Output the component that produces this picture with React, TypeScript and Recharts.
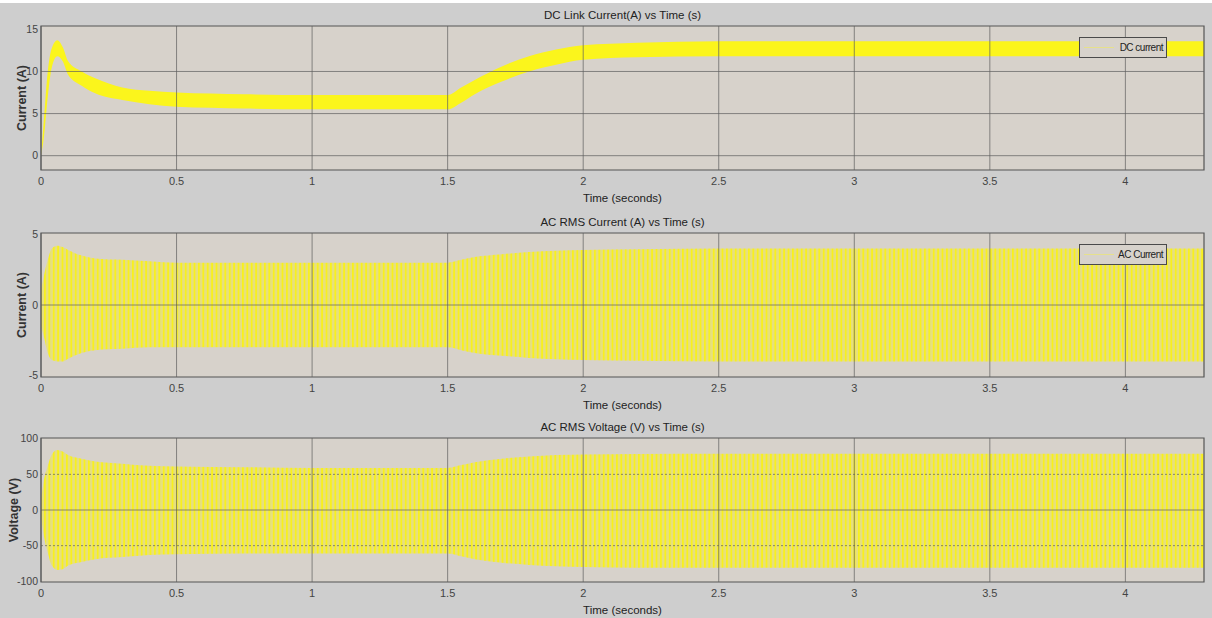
import React from 'react'
import {
  ComposedChart,
  Area,
  XAxis,
  YAxis,
  CartesianGrid,
  ReferenceLine,
  ReferenceArea,
  Legend,
} from 'recharts'

// envelope of each simulated signal
const times = [
  0, 0.01, 0.025, 0.04, 0.06, 0.08, 0.1, 0.15, 0.2, 0.3, 0.4, 0.5, 0.75, 1.0, 1.25, 1.5,
  1.55, 1.6, 1.7, 1.8, 1.9, 2.0, 2.2, 2.5, 3.0, 3.5, 4.0, 4.29,
]

const dcUpper = [
  0, 4, 10, 12.8, 13.7, 12.9, 11.2, 10.0, 9.2, 8.1, 7.7, 7.5, 7.3, 7.2, 7.2, 7.2,
  8.1, 9.0, 10.6, 11.8, 12.6, 13.1, 13.4, 13.6, 13.6, 13.6, 13.6, 13.6,
]
const dcLower = [
  0, 2, 7, 10.5, 11.8, 11.2, 9.6, 8.3, 7.4, 6.6, 6.1, 5.8, 5.6, 5.5, 5.5, 5.5,
  6.3, 7.3, 8.8, 10.0, 10.8, 11.4, 11.7, 11.8, 11.8, 11.8, 11.8, 11.8,
]

const acCurrentUpper = [
  1.0, 2.0, 3.2, 4.0, 4.2, 4.1, 3.9, 3.5, 3.3, 3.2, 3.1, 3.0, 3.0, 3.0, 3.0, 3.0,
  3.2, 3.4, 3.6, 3.75, 3.85, 3.9, 3.95, 4.0, 4.0, 4.0, 4.0, 4.0,
]
const acCurrentLower = [
  -1.5, -2.2, -3.4, -3.9, -4.0, -4.0, -3.8, -3.4, -3.2, -3.1, -3.0, -3.0, -3.0, -3.0, -3.0, -3.0,
  -3.2, -3.4, -3.6, -3.75, -3.85, -3.9, -3.95, -4.0, -4.0, -4.0, -4.0, -4.0,
]

const acVoltageUpper = [
  15, 40, 62, 78, 84, 82, 77, 72, 68, 65, 62, 61, 60, 59, 59, 59,
  63, 67, 72, 75, 77, 78, 78.5, 79, 79, 79, 79, 79,
]
const acVoltageLower = [
  -10, -35, -60, -78, -84, -83, -78, -73, -69, -66, -63, -62, -61, -61, -61, -61,
  -65, -69, -74, -77, -79, -80, -81, -81, -81, -81, -81, -81,
]

const xTicks = [0, 0.5, 1, 1.5, 2, 2.5, 3, 3.5, 4]
const dcTicks = [0, 5, 10, 15]
const acCurrentTicks = [-5, 0, 5]
const acVoltageTicks = [-100, -50, 0, 50, 100]

const data = times.map((t, i) => ({
  t,
  dc: [dcLower[i], dcUpper[i]],
  iac: [acCurrentLower[i], acCurrentUpper[i]],
  vac: [acVoltageLower[i], acVoltageUpper[i]],
}))

const X_MAX = 4.29
const FONT = '"Liberation Sans", Arial, sans-serif'
const FIG_BG = '#cecece'
const PLOT_BG = '#d7d2cb'
const GRID = '#5e5e5e'

interface GridLine {
  y: number
  dashed?: boolean
}

interface PanelProps {
  top: number
  title: string
  yLabel: string
  labelOffset: number
  dataKey: string
  yTicks: number[]
  yDomain: [number, number]
  fill: string
  gridLines: GridLine[]
  legend?: string
}

function LegendBox({ name }: { name: string }) {
  return (
    <div
      style={{
        boxSizing: 'border-box',
        width: 88,
        height: 21,
        background: PLOT_BG,
        border: '1px solid #4a4a4a',
        position: 'relative',
        fontFamily: FONT,
        fontSize: 10,
        color: '#222',
        letterSpacing: -0.5,
        whiteSpace: 'nowrap',
      }}
    >
      <div style={{ position: 'absolute', left: 4, top: 9, width: 30, height: 1, background: '#e6e08c' }} />
      <span style={{ position: 'absolute', right: 3, top: 3, lineHeight: '13px' }}>{name}</span>
    </div>
  )
}

function Panel({ top, title, yLabel, labelOffset, dataKey, yTicks, yDomain, fill, gridLines, legend }: PanelProps) {
  return (
    <div style={{ position: 'absolute', left: 0, top, width: 1212, height: 205 }}>
      <div
        style={{
          position: 'absolute',
          top: 8,
          left: 41,
          width: 1163,
          textAlign: 'center',
          fontFamily: FONT,
          fontSize: 11.5,
          lineHeight: '14px',
          color: '#222',
        }}
      >
        {title}
      </div>
      <ComposedChart width={1212} height={205} data={data} margin={{ top: 26, right: 8, left: 0, bottom: 0 }}>
        <defs>
          <pattern id="acStripes" patternUnits="userSpaceOnUse" width={4.4} height={10}>
            <rect x={0} y={0} width={4.4} height={10} fill="#e6df80" />
            <rect x={0} y={0} width={1.8} height={10} fill="#f8f01e" />
          </pattern>
        </defs>
        <CartesianGrid fill={PLOT_BG} horizontal={false} vertical={false} />
        <XAxis
          dataKey="t"
          type="number"
          domain={[0, X_MAX]}
          ticks={xTicks}
          allowDataOverflow
          height={35}
          axisLine={false}
          tickLine={false}
          tickSize={0}
          tickMargin={7}
          tick={{ fontSize: 11, fill: '#444', fontFamily: FONT }}
          label={{
            value: 'Time (seconds)',
            position: 'insideBottom',
            offset: 3,
            fontSize: 11.5,
            fill: '#222',
            fontFamily: FONT,
          }}
        />
        <YAxis
          type="number"
          domain={yDomain}
          ticks={yTicks}
          allowDataOverflow
          width={41}
          axisLine={false}
          tickLine={false}
          tickSize={0}
          tickMargin={3}
          tick={{ fontSize: 10.5, fill: '#444', fontFamily: FONT }}
          label={{
            value: yLabel,
            angle: -90,
            position: 'insideLeft',
            offset: labelOffset,
            fontSize: 12.5,
            fontWeight: 'bold',
            fill: '#333',
            fontFamily: FONT,
            style: { textAnchor: 'middle' },
          }}
        />
        <Area
          type="monotone"
          dataKey={dataKey}
          stroke="none"
          fill={fill}
          fillOpacity={1}
          isAnimationActive={false}
          legendType="none"
        />
        {xTicks.map((x) => (
          <ReferenceLine key={`vx${x}`} x={x} stroke={GRID} strokeOpacity={0.7} />
        ))}
        {gridLines.map((g) => (
          <ReferenceLine
            key={`hy${g.y}`}
            y={g.y}
            stroke={GRID}
            strokeOpacity={0.7}
            strokeDasharray={g.dashed ? '2 2' : undefined}
          />
        ))}
        <ReferenceArea
          x1={0}
          x2={X_MAX}
          y1={yDomain[0]}
          y2={yDomain[1]}
          fill="none"
          stroke="#555"
          strokeWidth={1.2}
        />
        {legend && (
          <Legend
            layout="horizontal"
            verticalAlign="middle"
            content={() => <LegendBox name={legend} />}
            wrapperStyle={{ position: 'absolute', left: 1079, top: 37, width: 88, height: 21 }}
          />
        )}
      </ComposedChart>
    </div>
  )
}

export default function App() {
  return (
    <div style={{ position: 'relative', width: 1212, height: 618, background: FIG_BG, overflow: 'hidden' }}>
      <style>{'body{margin:0}'}</style>
      <div style={{ position: 'absolute', left: 0, top: 0, width: 1212, height: 3, background: '#fff' }} />
      <Panel
        top={0}
        title="DC Link Current(A) vs Time (s)"
        yLabel="Current (A)"
        labelOffset={22}
        dataKey="dc"
        yTicks={dcTicks}
        yDomain={[-1.7, 15.4]}
        fill="#fbf51c"
        gridLines={[{ y: 0 }, { y: 5 }, { y: 10 }]}
        legend="DC current"
      />
      <Panel
        top={207}
        title="AC RMS Current (A) vs Time (s)"
        yLabel="Current (A)"
        labelOffset={22}
        dataKey="iac"
        yTicks={acCurrentTicks}
        yDomain={[-5.1, 5.1]}
        fill="url(#acStripes)"
        gridLines={[{ y: 0 }]}
        legend="AC Current"
      />
      <Panel
        top={412}
        title="AC RMS Voltage (V) vs Time (s)"
        yLabel="Voltage (V)"
        labelOffset={14}
        dataKey="vac"
        yTicks={acVoltageTicks}
        yDomain={[-101, 101]}
        fill="url(#acStripes)"
        gridLines={[{ y: -50, dashed: true }, { y: 0 }, { y: 50, dashed: true }]}
      />
    </div>
  )
}
